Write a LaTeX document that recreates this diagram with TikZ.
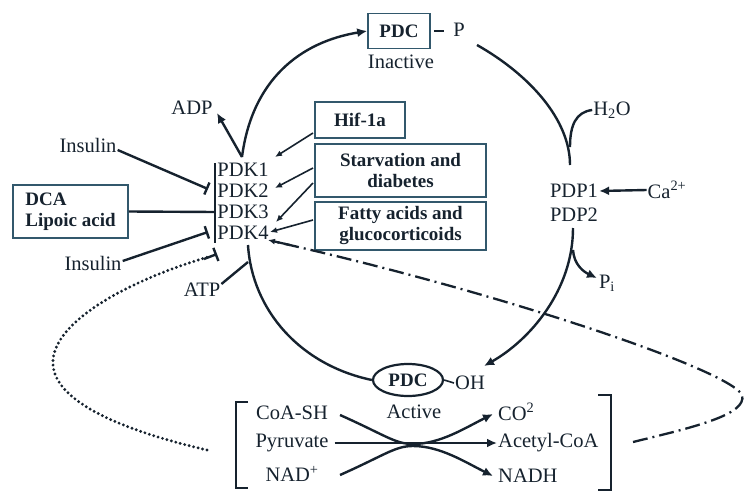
\documentclass[tikz,border=0pt]{standalone}
\usepackage{fontspec}
\setmainfont{Liberation Serif}
\usetikzlibrary{arrows.meta,shapes.geometric}
\definecolor{ink}{RGB}{22,34,46}
\definecolor{boxc}{RGB}{50,88,108}
\begin{document}
\begin{tikzpicture}[x=1pt,y=-1pt,
  lbl/.style={font=\fontsize{20.5}{22}\selectfont, text=ink, inner sep=1pt},
  bx/.style={draw=boxc, line width=1.6pt, font=\bfseries\fontsize{19}{21}\selectfont, text=ink, align=center, inner sep=0pt},
  conn/.style={draw=ink, line width=2.4pt},
  arr/.style={conn, -{Latex[length=10pt,width=9pt]}},
  thinarr/.style={draw=ink, line width=1.6pt, -{Latex[length=7pt,width=6pt]}},
  inh/.style={conn, -{Bar[width=13pt]}},
  dotline/.style={draw=ink, line width=3.2pt, line cap=round, dash pattern=on 0pt off 4.6pt},
  dashdot/.style={draw=ink, line width=2.3pt, dash pattern=on 15pt off 5pt on 2pt off 5pt}
]
\useasboundingbox (0,0) rectangle (744,495);

% top inactive PDC
\node[bx, minimum width=62, minimum height=35] (pdcI) at (399,31) {PDC};
\node[lbl] (P) at (459,30) {P};
\draw[conn, line width=1.5pt] (pdcI.east) ++(3,0) coordinate (d1) -- ++(10,0) coordinate (d2);
\node[lbl] (inact) at (401,62) {Inactive};

% left side
\node[lbl] (adp) at (192,108) {ADP};
\node[lbl] (ins1) at (88,145) {Insulin};
\node[lbl] (ins2) at (93,263) {Insulin};
\node[bx, minimum width=115, minimum height=53] (dca) at (70.5,211.5) {\begin{tabular}{@{}l@{}}DCA\\Lipoic acid\end{tabular}};
\node[lbl] (atp) at (202,290) {ATP};

% PDKs
\node[lbl] (pdk1) at (243,170) {PDK1};
\node[lbl] (pdk2) at (243,191) {PDK2};
\node[lbl] (pdk3) at (243,212) {PDK3};
\node[lbl] (pdk4) at (243,233) {PDK4};
\coordinate (bartop) at (215,163);
\coordinate (barbot) at (215,243);
\draw[conn] (bartop) -- (barbot);

% regulator boxes
\node[bx, minimum width=90, minimum height=36] (hif) at (360,120) {Hif-1a};
\node[bx, minimum width=171, minimum height=53] (starv) at (400.5,170.5) {Starvation and\\diabetes};
\node[bx, minimum width=171, minimum height=48] (fatty) at (400.5,226) {Fatty acids and\\glucocorticoids};

% right side
\node[lbl] (pdp1) at (574,191) {PDP1};
\node[lbl] (pdp2) at (574,215) {PDP2};
\node[lbl] (ca) at (667,190) {Ca\textsuperscript{2+}};
\node[lbl] (h2o) at (612,110) {H\textsubscript{2}O};
\node[lbl] (pi) at (607,283) {P\textsubscript{i}};

% active PDC
\node[ellipse, draw=ink, line width=2.2pt, minimum width=70, minimum height=32, inner sep=0pt, font=\bfseries\fontsize{19}{21}\selectfont, text=ink] (pdcA) at (408,380) {PDC};
\node[lbl, anchor=west] (oh) at (454,383) {OH};
\node[lbl] (active) at (414,412) {Active};
\draw[conn, line width=1.6pt] (pdcA.east) -- (oh.west);

% substrates / products
\node[lbl] (coa) at (292,413) {CoA-SH};
\node[lbl] (pyr) at (292,443) {Pyruvate};
\node[lbl] (nad) at (292,474) {NAD\textsuperscript{+}};
\node[lbl, anchor=west] (co2) at (497,412) {CO\textsuperscript{2}};
\node[lbl, anchor=west] (acoa) at (497,443) {Acetyl-CoA};
\node[lbl, anchor=west] (nadh) at (497,476) {NADH};

% brackets
\draw[conn, line width=2.8pt] (248,402) -- (236,402) -- (236,488) -- (248,488);
\draw[conn, line width=2.8pt] (598,395) -- (611,395) -- (611,490) -- (598,490);

% coordinates
\coordinate (top) at (242,157);
\coordinate (pout) at (477,45);
\coordinate (pdpin) at (570,165);
\coordinate (h2oj) at (570,147);
\coordinate (pdpout) at (573,228);
\coordinate (pij) at (573,250);
\coordinate (pdkout) at (248,245);
\coordinate (atpj) at (248,262);

% main cycle
\draw[arr] (top) .. controls (252,80) and (300,42) .. (pdcI.west);
\draw[arr] (top) -- (217,113);
\draw[conn] (pout) .. controls (530,75) and (570,120) .. (pdpin);
\draw[conn] (h2oj) .. controls (570,125) and (576,112) .. (h2o.west);
\draw[arr] (ca.west) -- (pdp1.east);
\draw[arr] (pdpout) .. controls (573,290) and (530,340) .. (484,366);
\draw[arr] (pij) .. controls (574,265) and (584,272) .. (597,278);
\draw[conn] (pdkout) .. controls (252,310) and (300,365) .. (pdcA.west);
\draw[conn] (atp.east) ++(0,-6) -- (atpj);

% inhibitors
\draw[inh] (ins1.east) ++(0,5) -- (208,189);
\draw[inh] (ins2.east) ++(0,-2) -- (208,232);
\draw[conn] (dca.east) -- (215,212);

% box arrows
\draw[thinarr] (313,133) -- (275,157);
\draw[thinarr] (313,168) -- (275,188);
\draw[thinarr] (313,183) -- (276,222);
\draw[thinarr] (313,220) -- (270,232);

% dotted feedback
\draw[dotline] (207,450) .. controls (120,430) and (50,400) .. (53,360) .. controls (56,320) and (130,280) .. (208,257);
\draw[conn, -{Bar[width=14pt]}] (204,259) -- (217,254);

% dash-dot feedback
\draw[dashdot] (633,442) .. controls (690,428) and (748,415) .. (742,395) .. controls (730,370) and (500,292) .. (272,241);
\draw[thinarr, line width=2.2pt] (290,245) -- (268,240);

% reaction
\draw[arr] (pyr.east) ++(5,0) -- (acoa.west);
\draw[arr] (340,415) .. controls (385,435) and (395,444) .. (413,444) .. controls (440,444) and (465,428) .. (493,414);
\draw[arr] (340,475) .. controls (385,455) and (395,446) .. (413,446) .. controls (440,446) and (465,462) .. (493,476);
\end{tikzpicture}
\end{document}
